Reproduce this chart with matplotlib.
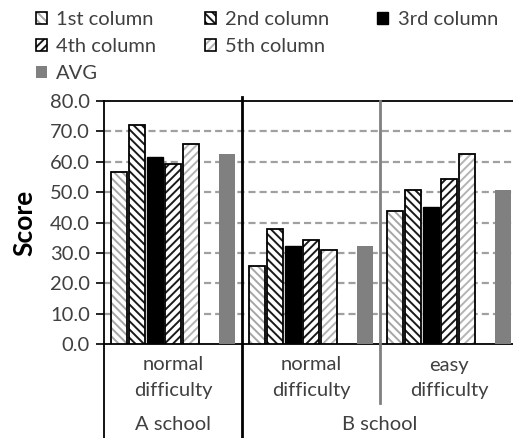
import numpy as np
import matplotlib
matplotlib.use('Agg')
import matplotlib.pyplot as plt
from matplotlib.patches import Patch

# ── data ─────────────────────────────────────────────
groups = ['normal\ndifficulty', 'normal\ndifficulty', 'easy\ndifficulty']
schools = ['A school', 'B school']
series_names = ['1st column', '2nd column', '3rd column', '4th column', '5th column', 'AVG']
col1 = [56.6, 25.7, 43.8]
col2 = [72.0, 37.9, 50.8]
col3 = [61.4, 32.1, 45.1]
col4 = [59.2, 34.4, 54.3]
col5 = [66.0, 30.9, 62.6]
avg = [62.7, 32.1, 50.8]
yticks = np.arange(0, 81, 10)

plt.rcParams['font.family'] = ['Lato', 'DejaVu Sans']
plt.rcParams['hatch.linewidth'] = 1.4

W, H = 513, 438
fig = plt.figure(figsize=(W / 100, H / 100), dpi=100)
ax = fig.add_axes([104 / W, 1 - 344 / H, 414 / W, 243 / H])

x = np.arange(len(groups))
step = 0.131
bw = 0.118
# slot index inside the group (slot 5 stays empty)
slots = [0, 1, 2, 3, 4, 6]
# (face, hatch, hatch colour)
styles = [
    ('white', '\\\\\\\\', '#a6a6a6'),
    ('white', '\\\\\\\\', '#1a1a1a'),
    ('black', None, None),
    ('white', '////', '#1a1a1a'),
    ('white', '////', '#b4b4b4'),
    ('#808080', None, None),
]
data = [col1, col2, col3, col4, col5, avg]

handles = []
for vals, slot, (fc, hatch, hc), name in zip(data, slots, styles, series_names):
    pos = x + (slot - 3) * step
    if hatch is not None:
        ax.bar(pos, vals, bw, color=fc, edgecolor=hc, hatch=hatch, linewidth=0, zorder=3)
        ax.bar(pos, vals, bw, fill=False, edgecolor='black', linewidth=1.3, zorder=4)
        h = (Patch(facecolor=fc, edgecolor=hc, hatch=hatch, linewidth=0),
             Patch(fill=False, edgecolor='black', linewidth=1.2))
    elif name == 'AVG':
        ax.bar(pos, vals, bw, color=fc, linewidth=0, zorder=3)
        h = Patch(facecolor=fc, linewidth=0)
    else:
        ax.bar(pos, vals, bw, color=fc, edgecolor='black', linewidth=1.0, zorder=3)
        h = Patch(facecolor=fc, edgecolor='black', linewidth=1.0)
    handles.append(h)

ax.set_xlim(-0.5, len(groups) - 0.5)
ax.set_ylim(0, 80)
ax.set_yticks(yticks)
ax.set_yticklabels([f'{v:.1f}' for v in yticks])
ax.tick_params(axis='y', length=6, width=1.2, colors='black', labelcolor='#404040',
               labelsize=14.5, pad=4)
ax.set_xticks(x)
ax.set_xticklabels(groups, linespacing=1.6)
ax.tick_params(axis='x', length=0, labelsize=14.5, labelcolor='#404040', pad=9)

for v in yticks[1:-1]:
    ax.axhline(v, color='#a0a0a0', lw=1.6, linestyle=(0, (3.2, 1.8)), zorder=1)

for s in ['left', 'bottom', 'top']:
    ax.spines[s].set_color('black')
    ax.spines[s].set_linewidth(1.3)
ax.spines['right'].set_visible(False)

tr = ax.get_xaxis_transform()
ax.plot([-0.5, -0.5], [0, -0.39], color='black', lw=1.3, transform=tr, clip_on=False)
ax.plot([0.5, 0.5], [1.016, -0.39], color='black', lw=2.0, transform=tr, clip_on=False, zorder=5)
ax.plot([1.5, 1.5], [1.0, -0.243], color='#808080', lw=2.0, transform=tr, clip_on=False, zorder=5)

ax.text(0, -0.333, schools[0], transform=tr, ha='center', va='center', fontsize=14.5, color='#404040')
ax.text(1.5, -0.333, schools[1], transform=tr, ha='center', va='center', fontsize=14.5, color='#404040')

ax.set_ylabel('Score', fontsize=19, fontweight='bold', color='black', labelpad=10)

blank = Patch(visible=False)
order = [handles[0], handles[3], handles[5], handles[1], handles[4], blank, handles[2], blank, blank]
labels = [series_names[0], series_names[3], series_names[5], series_names[1], series_names[4], '',
          series_names[2], '', '']
fig.legend(order, labels, loc='upper left', bbox_to_anchor=(26 / W, 1 - 1 / H), ncol=3,
           frameon=False, fontsize=14.5, handlelength=0.55, handleheight=0.55, handletextpad=0.45,
           columnspacing=2.4, labelspacing=0.5, borderpad=0, labelcolor='#404040')

fig.savefig('out.png', dpi=100)
